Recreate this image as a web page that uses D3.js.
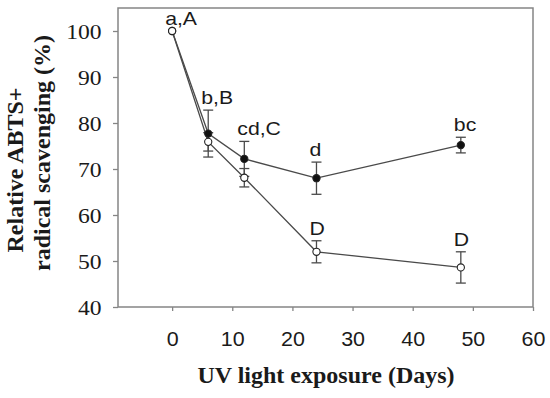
<!DOCTYPE html>
<html>
<head>
<meta charset="utf-8">
<script src="https://cdn.jsdelivr.net/npm/d3@7"></script>
<style>
  body { margin: 0; background: #fff; }
  svg { display: block; }
</style>
</head>
<body>
<svg id="svg" width="550" height="398"></svg>
<script>
// values
const days = [0, 6, 12, 24, 48]
const filledMean = [100, 77.7, 72.2, 68.0, 75.2]
const filledErr = [0, 5.1, 3.8, 3.5, 1.7]
const openMean = [100, 75.9, 68.1, 52.0, 48.6]
const openErr = [0, 2.0, 2.0, 2.4, 3.4]
const filledLabels = ['a,A', 'b,B', 'cd,C', 'd', 'bc']
const openLabels = ['', '', '', 'D', 'D']
const xTicks = [0, 10, 20, 30, 40, 50, 60]
const yTicks = [40, 50, 60, 70, 80, 90, 100]

const W = 550, H = 398
const margin = { top: 8, right: 17, bottom: 91, left: 118 }
const width = W - margin.left - margin.right
const height = H - margin.top - margin.bottom

const sans = '"Liberation Sans", Arial, sans-serif'
const serif = '"Liberation Serif", "Times New Roman", serif'
const stretch = 1.18 // glyphs in the figure look a bit wide
const lineCol = '#4a4a4a'
const frameCol = '#858585'
const textCol = '#1a1a1a'

const xscale = d3.scaleLinear().domain([-9, 60]).range([0, width])
const yscale = d3.scaleLinear().domain([40, 105]).range([height, 0])

const svg = d3.select('#svg')
svg.append('rect').attr('width', W).attr('height', H).attr('fill', '#fff')

const g = svg.append('g')
  .attr('transform', `translate(${margin.left}, ${margin.top})`)

// axes
const xAxis = g.append('g')
  .attr('transform', `translate(0, ${height})`)
  .call(d3.axisBottom(xscale).tickValues(xTicks).tickSize(4).tickSizeOuter(0))
xAxis.select('.domain').remove()
xAxis.selectAll('line').attr('stroke', frameCol).attr('stroke-width', 1.3)
xAxis.selectAll('text')
  .attr('y', 38.7).attr('dy', null)
  .style('font-family', sans).style('font-size', '19.5px').attr('fill', textCol)
  .attr('transform', 'scale(1.1,1)')

const yAxis = g.append('g')
  .call(d3.axisLeft(yscale).tickValues(yTicks).tickSize(5).tickSizeOuter(0))
yAxis.select('.domain').remove()
yAxis.selectAll('line').attr('stroke', frameCol).attr('stroke-width', 1.3)
yAxis.selectAll('text')
  .attr('x', -16.5 / stretch).attr('dy', '0.36em')
  .style('font-family', serif).style('font-size', '20px').attr('fill', textCol)
  .attr('transform', `scale(${stretch},1)`)

// frame
g.append('rect')
  .attr('width', width).attr('height', height)
  .attr('fill', 'none').attr('stroke', frameCol).attr('stroke-width', 1.5)

const series = [
  { mean: filledMean, err: filledErr, labels: filledLabels, fill: '#111' },
  { mean: openMean, err: openErr, labels: openLabels, fill: '#fff' }
]

const line = d3.line()
  .x((d, i) => xscale(days[i]))
  .y(d => yscale(d))

// lines
series.forEach(s => {
  g.append('path')
    .attr('d', line(s.mean))
    .attr('fill', 'none').attr('stroke', lineCol).attr('stroke-width', 1.3)
})

// error bars
series.forEach(s => {
  const eb = g.append('g').attr('stroke', lineCol).attr('stroke-width', 1.3)
  days.forEach((day, i) => {
    if (!s.err[i]) return
    const x = xscale(day)
    const y0 = yscale(s.mean[i] - s.err[i])
    const y1 = yscale(s.mean[i] + s.err[i])
    eb.append('line').attr('x1', x).attr('x2', x).attr('y1', y0).attr('y2', y1)
    eb.append('line').attr('x1', x - 5).attr('x2', x + 5).attr('y1', y0).attr('y2', y0)
    eb.append('line').attr('x1', x - 5).attr('x2', x + 5).attr('y1', y1).attr('y2', y1)
  })
})

// markers
series.forEach(s => {
  g.append('g').selectAll('circle')
    .data(s.mean)
    .enter()
    .append('circle')
    .attr('cx', (d, i) => xscale(days[i]))
    .attr('cy', d => yscale(d))
    .attr('r', 3.6)
    .attr('fill', s.fill)
    .attr('stroke', '#222').attr('stroke-width', 1.1)
})

// letter labels above each point
series.forEach(s => {
  s.labels.forEach((t, i) => {
    if (!t) return
    const x = xscale(days[i]) - 7
    const y = yscale(s.mean[i] + s.err[i]) - 6
    g.append('text')
      .attr('transform', `translate(${x},${y}) scale(${stretch},1)`)
      .style('font-family', sans).style('font-size', '18px').attr('fill', textCol)
      .text(t)
  })
})

// axis titles
const title = (txt, transform) => svg.append('text')
  .attr('transform', transform)
  .attr('text-anchor', 'middle')
  .style('font-family', serif).style('font-weight', 'bold').style('font-size', '24px')
  .attr('fill', textCol)
  .text(txt)

title('UV light exposure (Days)', 'translate(326,383)')
title('Relative ABTS+', 'translate(23,170) rotate(-90)')
title('radical scavenging (%)', 'translate(50,153) rotate(-90)')
</script>
</body>
</html>
